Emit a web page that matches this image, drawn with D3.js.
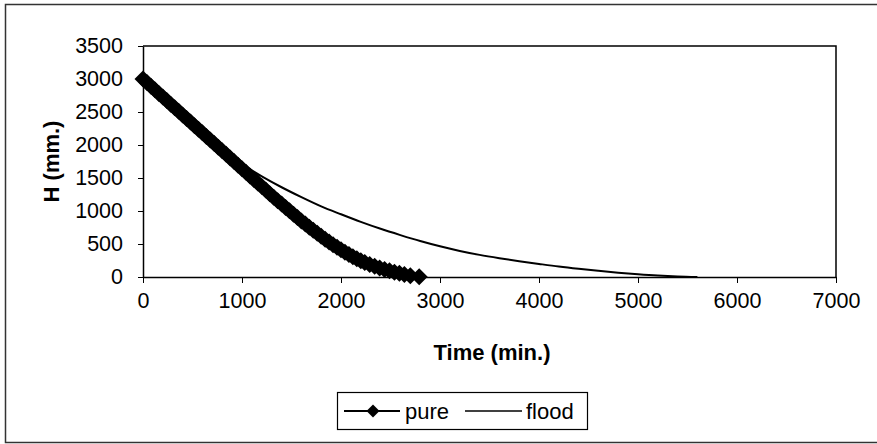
<!DOCTYPE html>
<html>
<head>
<meta charset="utf-8">
<script src="https://cdn.jsdelivr.net/npm/d3@7"></script>
<style>
  body { margin: 0; background: #fff; }
  svg text { font-family: "Liberation Sans", Arial, sans-serif; fill: #000; }
</style>
</head>
<body>
<div id="chart"></div>
<script>
// time axis (min.) and water depth H (mm.)
const pureTime = [0, 40, 80, 120, 160, 200, 240, 280, 320, 360, 400, 440, 480, 520, 560, 600,
  640, 680, 720, 760, 800, 840, 880, 920, 960, 1000, 1040, 1080, 1120, 1160, 1200, 1240, 1280,
  1320, 1360, 1400, 1440, 1480, 1520, 1560, 1600, 1640, 1680, 1720, 1760, 1800, 1840, 1880,
  1920, 1960, 2000, 2040, 2080, 2120, 2160, 2200, 2240, 2290, 2340, 2390, 2440, 2490, 2540,
  2590, 2640, 2700, 2790];
const pureH = [3000, 2946, 2891, 2837, 2782, 2728, 2674, 2619, 2565, 2510, 2456, 2402, 2347,
  2293, 2238, 2184, 2130, 2075, 2021, 1966, 1912, 1858, 1803, 1749, 1694, 1640, 1586, 1532,
  1478, 1424, 1370, 1317, 1263, 1210, 1157, 1105, 1053, 1002, 951, 900, 850, 802, 754, 707,
  661, 616, 572, 530, 489, 450, 412, 375, 340, 307, 275, 246, 220, 190, 163, 138, 115, 93, 73,
  55, 38, 20, 2];

const floodTime = [0, 200, 400, 600, 800, 1000, 1200, 1400, 1600, 1800, 2000, 2200, 2400, 2600,
  2800, 3000, 3200, 3400, 3600, 3800, 4000, 4200, 4400, 4600, 4800, 5000, 5200, 5400, 5600];
const floodH = [3000, 2728, 2456, 2184, 1925, 1710, 1525, 1360, 1210, 1070, 950, 835, 730, 635,
  545, 465, 395, 335, 285, 240, 198, 158, 124, 94, 66, 42, 22, 8, 0];

const xTicks = [0, 1000, 2000, 3000, 4000, 5000, 6000, 7000];
const yTicks = [0, 500, 1000, 1500, 2000, 2500, 3000, 3500];

const width = 877, height = 444;
const margin = { top: 46, right: 41, bottom: 167, left: 143 };

const svg = d3.select("#chart").append("svg")
  .attr("width", width)
  .attr("height", height);

// outer chart frame
svg.append("rect")
  .attr("x", 5.5).attr("y", 4.5)
  .attr("width", 880).attr("height", 438)
  .attr("fill", "none").attr("stroke", "#333").attr("stroke-width", 1.5);

const x = d3.scaleLinear().domain([0, 7000]).range([margin.left, width - margin.right]);
const y = d3.scaleLinear().domain([0, 3500]).range([height - margin.bottom, margin.top]);

// plot area border (top & right)
svg.append("path")
  .attr("d", `M${x(0)},${y(3500)}H${x(7000)}V${y(0)}`)
  .attr("fill", "none").attr("stroke", "#000").attr("stroke-width", 1.5);

const xAxis = svg.append("g")
  .attr("transform", `translate(0,${y(0)})`)
  .call(d3.axisBottom(x).tickValues(xTicks).tickFormat(d3.format("d"))
    .tickSize(6).tickSizeOuter(0).tickPadding(9));

const yAxis = svg.append("g")
  .attr("transform", `translate(${x(0)},0)`)
  .call(d3.axisLeft(y).tickValues(yTicks).tickFormat(d3.format("d"))
    .tickSize(5).tickSizeOuter(0).tickPadding(15));

[xAxis, yAxis].forEach(g => {
  g.select(".domain").attr("stroke", "#000").attr("stroke-width", 1.5);
  g.selectAll(".tick line").attr("stroke", "#000").attr("stroke-width", 1);
  g.selectAll(".tick text")
    .style("font-family", "'Liberation Sans', Arial, sans-serif")
    .style("font-size", "21.5px");
});
xAxis.selectAll(".tick text").attr("dy", "0.75em");

// axis titles
svg.append("text")
  .attr("x", 492).attr("y", 360)
  .attr("text-anchor", "middle")
  .style("font-size", "22px").style("font-weight", "bold")
  .text("Time (min.)");

svg.append("text")
  .attr("transform", `translate(59,${(y(0) + y(3500)) / 2}) rotate(-90)`)
  .attr("text-anchor", "middle")
  .style("font-size", "22px").style("font-weight", "bold")
  .text("H (mm.)");

const pure = pureTime.map((t, i) => ({ t, h: pureH[i] }));
const flood = floodTime.map((t, i) => ({ t, h: floodH[i] }));

const line = d3.line().x(d => x(d.t)).y(d => y(d.h)).curve(d3.curveMonotoneX);

svg.append("path")
  .datum(flood)
  .attr("d", line)
  .attr("fill", "none").attr("stroke", "#000").attr("stroke-width", 2);

svg.append("path")
  .datum(pure)
  .attr("d", line)
  .attr("fill", "none").attr("stroke", "#000").attr("stroke-width", 3);

const diamond = r => `M0,${-r}L${r},0L0,${r}L${-r},0Z`;

svg.append("g").selectAll("path")
  .data(pure)
  .join("path")
  .attr("transform", d => `translate(${x(d.t)},${y(d.h)})`)
  .attr("d", diamond(8.5))
  .attr("fill", "#000");

// legend
const lg = svg.append("g");
lg.append("rect")
  .attr("x", 337.5).attr("y", 392.5).attr("width", 250).attr("height", 37)
  .attr("fill", "#fff").attr("stroke", "#000").attr("stroke-width", 1.2);
lg.append("line")
  .attr("x1", 344).attr("x2", 400).attr("y1", 411).attr("y2", 411)
  .attr("stroke", "#000").attr("stroke-width", 2);
lg.append("path")
  .attr("transform", "translate(373,411)")
  .attr("d", diamond(6.5)).attr("fill", "#000");
lg.append("text")
  .attr("x", 405).attr("y", 411).attr("dy", "0.35em")
  .style("font-size", "22px").text("pure");
lg.append("line")
  .attr("x1", 465).attr("x2", 522).attr("y1", 411).attr("y2", 411)
  .attr("stroke", "#000").attr("stroke-width", 1.5);
lg.append("text")
  .attr("x", 526).attr("y", 411).attr("dy", "0.35em")
  .style("font-size", "22px").text("flood");
</script>
</body>
</html>
